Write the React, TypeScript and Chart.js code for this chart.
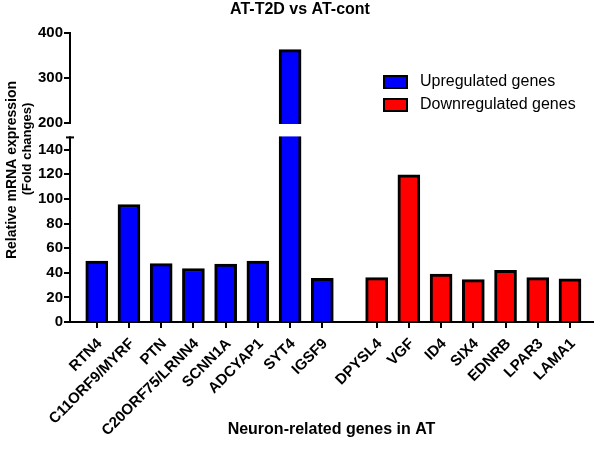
import React, { useEffect, useRef } from 'react';
import { Chart, LinearScale, registerables } from 'chart.js';

// ---------- data ----------
const TITLE = 'AT-T2D vs AT-cont';
const Y_TITLE_1 = 'Relative mRNA expression';
const Y_TITLE_2 = '(Fold changes)';
const X_TITLE = 'Neuron-related genes in AT';

const UP_LABEL = 'Upregulated genes';
const DOWN_LABEL = 'Downregulated genes';

const UP_GENES = ['RTN4', 'C11ORF9/MYRF', 'PTN', 'C20ORF75/LRNN4', 'SCNN1A', 'ADCYAP1', 'SYT4', 'IGSF9'];
const UP_VALUES = [49.5, 95.5, 47.5, 43.5, 47, 49.5, 363, 35.5];

const DOWN_GENES = ['DPYSL4', 'VGF', 'ID4', 'SIX4', 'EDNRB', 'LPAR3', 'LAMA1'];
const DOWN_VALUES = [36, 119.5, 39, 34.5, 42, 36, 35];

const Y_TICKS = [0, 20, 40, 60, 80, 100, 120, 140, 200, 300, 400];

// ---------- broken y axis layout ----------
const LOWER_MAX = 150;
const UPPER_MIN = 200;
const Y_MAX = 400;
const LOWER_FRAC = 0.6387;
const GAP_FRAC = 0.0506;
const UPPER_FRAC = 1 - LOWER_FRAC - GAP_FRAC;

function toDecimal(v: number): number {
  if (v <= LOWER_MAX) return (v / LOWER_MAX) * LOWER_FRAC;
  if (v < UPPER_MIN) return LOWER_FRAC + ((v - LOWER_MAX) / (UPPER_MIN - LOWER_MAX)) * GAP_FRAC;
  return LOWER_FRAC + GAP_FRAC + ((v - UPPER_MIN) / (Y_MAX - UPPER_MIN)) * UPPER_FRAC;
}
function fromDecimal(d: number): number {
  if (d <= LOWER_FRAC) return (d / LOWER_FRAC) * LOWER_MAX;
  if (d < LOWER_FRAC + GAP_FRAC) return LOWER_MAX + ((d - LOWER_FRAC) / GAP_FRAC) * (UPPER_MIN - LOWER_MAX);
  return UPPER_MIN + ((d - LOWER_FRAC - GAP_FRAC) / UPPER_FRAC) * (Y_MAX - UPPER_MIN);
}

class BrokenScale extends LinearScale {
  static id = 'broken';
  static defaults = LinearScale.defaults;
  getPixelForValue(value: any) {
    if (value === null || value === undefined || isNaN(value)) return NaN;
    return (this as any).getPixelForDecimal(toDecimal(value));
  }
  getValueForPixel(pixel: number) {
    return fromDecimal((this as any).getDecimalForPixel(pixel));
  }
}

Chart.register(...registerables, BrokenScale as any);

// ---------- x layout ----------
const GROUP_GAP = 1.686;
const X_MIN = -0.83;
const X_MAX = 15.4;
const UP_POS = UP_GENES.map((_, i) => i);
const DOWN_POS = DOWN_GENES.map((_, j) => UP_GENES.length - 1 + GROUP_GAP + j);
const ALL_POS = [...UP_POS, ...DOWN_POS];
const ALL_GENES = [...UP_GENES, ...DOWN_GENES];

const FONT = '"Liberation Sans", Arial, Helvetica, sans-serif';

const decorPlugin = {
  id: 'decor',
  afterDraw(chart: any) {
    const ctx = chart.ctx;
    const area = chart.chartArea;
    const y = chart.scales.y;
    const y200 = y.getPixelForValue(UPPER_MIN);
    const y150 = y.getPixelForValue(LOWER_MAX);
    ctx.save();
    // axis / bar break
    ctx.fillStyle = '#ffffff';
    ctx.fillRect(area.left - 3, y200 + 1.2, area.right - area.left + 3, y150 - y200 - 2.2);
    ctx.strokeStyle = '#000';
    ctx.lineWidth = 2;
    ctx.beginPath();
    ctx.moveTo(area.left - 4, y150);
    ctx.lineTo(area.left + 4, y150);
    ctx.stroke();

    ctx.fillStyle = '#000';
    // main title
    ctx.font = 'bold 16px ' + FONT;
    ctx.textAlign = 'center';
    ctx.textBaseline = 'alphabetic';
    ctx.fillText(TITLE, 300, 13.5);

    // x title
    ctx.font = 'bold 16px ' + FONT;
    ctx.textBaseline = 'middle';
    ctx.fillText(X_TITLE, (area.left + area.right) / 2, 430);

    // y title lines
    ctx.font = 'bold 14px ' + FONT;
    ctx.save();
    ctx.translate(12, 170);
    ctx.rotate(-Math.PI / 2);
    ctx.fillText(Y_TITLE_1, 0, 0);
    ctx.restore();
    ctx.font = 'bold 13px ' + FONT;
    ctx.save();
    ctx.translate(27, 149);
    ctx.rotate(-Math.PI / 2);
    ctx.fillText(Y_TITLE_2, 0, 0);
    ctx.restore();

    // legend
    ctx.font = '16px ' + FONT;
    ctx.textAlign = 'left';
    chart.data.datasets.forEach((ds: any, i: number) => {
      const cy = 82 + i * 23;
      ctx.fillStyle = ds.backgroundColor;
      ctx.fillRect(384, cy - 6, 23, 12);
      ctx.strokeStyle = '#000';
      ctx.lineWidth = 2;
      ctx.strokeRect(384, cy - 6, 23, 12);
      ctx.fillStyle = '#000';
      ctx.fillText(ds.label, 420, cy);
    });
    ctx.restore();
  },
};

export default function App() {
  const ref = useRef<HTMLCanvasElement | null>(null);
  useEffect(() => {
    if (!ref.current) return;
    const chart = new Chart(ref.current, {
      type: 'bar',
      data: {
        datasets: [
          {
            label: UP_LABEL,
            data: UP_GENES.map((_, i) => ({ x: UP_POS[i], y: UP_VALUES[i] })),
            backgroundColor: '#0000ff',
            borderColor: '#000000',
            borderWidth: 3,
          },
          {
            label: DOWN_LABEL,
            data: DOWN_GENES.map((_, i) => ({ x: DOWN_POS[i], y: DOWN_VALUES[i] })),
            backgroundColor: '#ff0000',
            borderColor: '#000000',
            borderWidth: 3,
          },
        ],
      } as any,
      options: {
        animation: false,
        responsive: false,
        devicePixelRatio: 1,
        grouped: false,
        barThickness: 22,
        layout: { padding: { top: 33, left: 0, right: 7, bottom: 0 } },
        plugins: {
          legend: { display: false },
          title: { display: false },
          tooltip: { enabled: false },
        },
        scales: {
          x: {
            type: 'linear',
            min: X_MIN,
            max: X_MAX,
            offset: false,
            afterBuildTicks: (s: any) => {
              s.ticks = ALL_POS.map((v) => ({ value: v }));
            },
            afterFit: (s: any) => {
              s.height = 129;
            },
            ticks: {
              autoSkip: false,
              minRotation: 45,
              maxRotation: 45,
              padding: 7,
              labelOffset: 3,
              color: '#000',
              font: { family: FONT, size: 15, weight: 'bold' },
              callback: (_v: any, i: number) => ALL_GENES[i],
            },
            grid: {
              offset: false,
              drawOnChartArea: false,
              drawTicks: true,
              tickLength: 6,
              color: '#000',
              lineWidth: 2,
            },
            border: { display: true, color: '#000', width: 2 },
          },
          y: {
            type: 'broken',
            min: 0,
            max: Y_MAX,
            afterBuildTicks: (s: any) => {
              s.ticks = Y_TICKS.map((v) => ({ value: v }));
            },
            afterFit: (s: any) => {
              s.width = 70;
            },
            ticks: {
              autoSkip: false,
              padding: 1,
              color: '#000',
              font: { family: FONT, size: 15, weight: 'bold' },
              callback: (v: any) => String(v),
            },
            grid: {
              drawOnChartArea: false,
              drawTicks: true,
              tickLength: 6,
              color: '#000',
              lineWidth: 2,
            },
            border: { display: true, color: '#000', width: 2 },
          },
        } as any,
      } as any,
      plugins: [decorPlugin],
    });
    return () => chart.destroy();
  }, []);
  return (
    <div style={{ position: 'absolute', left: 0, top: 0, width: 600, height: 451, background: '#fff' }}>
      <canvas ref={ref} width={600} height={451} style={{ display: 'block' }} />
    </div>
  );
}
